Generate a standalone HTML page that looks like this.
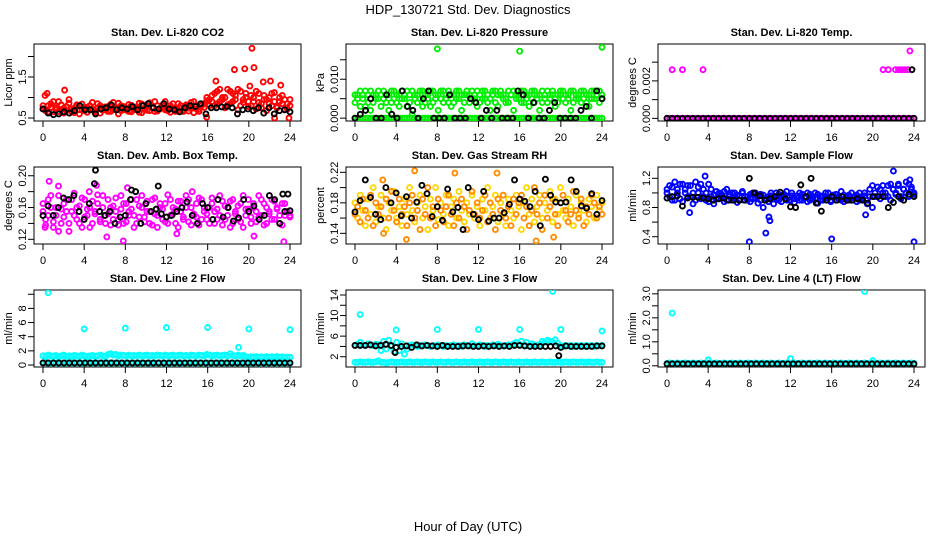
<!DOCTYPE html>
<html><head><meta charset="utf-8"><style>
html,body{margin:0;padding:0;background:#fff;}
svg{display:block;font-family:"Liberation Sans",sans-serif;}
</style></head><body>
<svg id="chart" width="936" height="540" viewBox="0 0 936 540">
<text x="468" y="14" text-anchor="middle" font-size="13">HDP_130721 Std. Dev. Diagnostics</text>
<text x="468" y="531" text-anchor="middle" font-size="13">Hour of Day (UTC)</text>
</svg>
<script>
// ---- data ----
const xTicks = [0,4,8,12,16,20,24];
const co2Red = [0.72,0.68,0.8,0.85,0.65,0.75,0.9,0.7,0.62,0.78,0.95,0.66,0.74,0.82,0.6,0.7,0.76,0.64,0.8,0.72,0.68,0.85,0.62,0.75,0.7,0.78,0.66,0.88,0.73,0.6,0.8,0.71,0.69,0.83,0.65,0.77,0.72,0.86,0.63,0.74,0.8,0.68,0.76,0.9,0.67,0.73,0.82,0.7,0.75,0.64,0.85,0.72,0.69,0.8,0.66,0.78,0.74,0.88,0.63,0.79,0.71,0.84,0.76,0.92,0.95,1.05,0.8,1.15,0.9,1.0,0.75,1.2,0.85,1.1,0.95,0.7,1.15,0.88,1.0,0.78,1.05,0.9,0.72,1.1,0.85,0.95,0.68,1.0,0.8,1.12,0.75,0.9,1.05,0.7,0.85,0.95];
const co2Red2 = [0.8,0.7,0.65,0.76,0.9,0.7,0.66,0.82,0.74,0.68,0.86,0.72,0.63,0.79,0.7,0.84,0.68,0.76,0.7,0.88,0.64,0.74,0.8,0.69,0.77,0.66,0.83,0.7,0.75,0.86,0.68,0.78,0.73,0.66,0.81,0.7,0.76,0.64,0.84,0.71,0.69,0.87,0.74,0.66,0.8,0.72,0.75,0.9,0.68,0.8,0.72,0.66,0.85,0.74,0.7,0.82,0.67,0.76,0.9,0.72,0.66,0.8,0.85,1.0,0.8,0.9,1.1,0.85,1.2,0.95,1.0,0.82,1.15,0.9,1.05,1.2,0.8,0.95,1.1,0.9,0.8,1.0,1.15,0.88,0.75,1.05,0.95,0.85,1.1,0.9,0.78,1.0,0.85,0.95,0.72,0.8];
const co2RedOutHours = [0.2,0.4,2.1,16.8,18.6,19.6,20.1,20.3,20.5,21.4,22.1,23.1,22.5,23.9,15.9];
const co2RedOutVals = [1.05,1.1,1.18,1.4,1.68,1.7,1.28,2.2,1.73,1.38,1.4,1.3,0.5,0.5,0.52];
const co2Black = [0.72,0.62,0.58,0.6,0.65,0.62,0.68,0.8,0.7,0.7,0.6,0.72,0.75,0.82,0.7,0.75,0.72,0.78,0.7,0.8,0.85,0.75,0.72,0.85,0.72,0.7,0.65,0.75,0.8,0.78,0.85,0.6,0.75,0.75,0.77,0.78,0.75,0.6,0.7,0.72,0.68,0.75,0.62,0.75,0.6,0.68,0.7,0.65];

const presGreenBase = [0,0,0,0,0,0,0,0,0,0,0,0,0,0,0,0,0,0,0,0,0,0,0,0,0,0,0,0,0,0,0,0,0,0,0,0,0,0,0,0,0,0,0,0,0,0,0,0,0,0,0,0,0,0,0,0,0,0,0,0,0,0,0,0,0,0,0,0,0,0,0,0,0,0,0,0,0,0,0,0,0,0,0,0,0,0,0,0,0,0,0,0,0,0,0,0];
const presGreen = [0.006,0.005,0.003,0.006,0.007,0.004,0.002,0.006,0.005,0.007,0.003,0.005,0.006,0.002,0.004,0.007,0.006,0.003,0.005,0.006,0.007,0.004,0.001,0.005,0.006,0.007,0.003,0.006,0.005,0.007,0.004,0.006,0.002,0.005,0.007,0.006,0.004,0.003,0.006,0.005,0.007,0.002,0.006,0.006,0.004,0.007,0.005,0.003,0.006,0.007,0.005,0.004,0.002,0.006,0.007,0.003,0.006,0.005,0.004,0.007,0.006,0.002,0.005,0.006,0.007,0.004,0.006,0.003,0.005,0.007,0.006,0.002,0.004,0.006,0.007,0.005,0.006,0.003,0.006,0.007,0.005,0.004,0.006,0.002,0.007,0.005,0.006,0.004,0.007,0.006,0.003,0.005,0.007,0.006,0.004,0.006];
const presGreen2 = [0.004,0.006,0.007,0.005,0.003,0.006,0.007,0.004,0.006,0.005,0.006,0.007,0.004,0.006,0.007,0.005,0.004,0.006,0.007,0.005,0.003,0.006,0.007,0.006,0.004,0.005,0.007,0.004,0.006,0.003,0.007,0.005,0.006,0.007,0.004,0.005,0.007,0.006,0.004,0.007,0.005,0.006,0.004,0.007,0.006,0.005,0.006,0.007,0.004,0.005,0.007,0.006,0.005,0.007,0.004,0.006,0.007,0.006,0.005,0.004,0.006,0.007,0.006,0.005,0.004,0.007,0.005,0.006,0.007,0.004,0.005,0.006,0.007,0.005,0.004,0.006,0.007,0.005,0.004,0.006,0.007,0.006,0.005,0.007,0.004,0.006,0.005,0.007,0.005,0.004,0.006,0.007,0.005,0.006,0.007,0.005];
const presGreenOutHours = [8,16,24];
const presGreenOutVals = [0.0178,0.0172,0.0182];
const presBlack = [0,0.001,0.002,0.005,0,0,0.006,0.001,0,0.007,0.003,0.002,0,0.005,0.007,0,0,0,0.006,0,0,0,0.005,0.004,0,0.002,0,0.002,0,0,0,0.007,0.006,0,0.004,0,0,0.002,0.004,0,0,0,0,0.002,0.003,0,0.007,0.005];

const tempMag = [0,0,0,0,0,0,0,0,0,0,0,0,0,0,0,0,0,0,0,0,0,0,0,0,0,0,0,0,0,0,0,0,0,0,0,0,0,0,0,0,0,0,0,0,0,0,0,0,0,0,0,0,0,0,0,0,0,0,0,0,0,0,0,0,0,0,0,0,0,0,0,0,0,0,0,0,0,0,0,0,0,0,0,0,0,0,0,0,0,0,0,0,0,0,0,0];
const tempMagOutHours = [0.5,1.5,3.5,21,21.5,22.2,22.5,22.8,23.1,23.4,23.6];
const tempMagOutVals = [0.0026,0.0026,0.0026,0.0026,0.0026,0.0026,0.0026,0.0026,0.0026,0.0026,0.0036];
const tempBlack = [0,0,0,0,0,0,0,0,0,0,0,0,0,0,0,0,0,0,0,0,0,0,0,0,0,0,0,0,0,0,0,0,0,0,0,0,0,0,0,0,0,0,0,0,0,0,0,0,0];
const tempBlackOutHours = [23.8];
const tempBlackOutVals = [0.0026];

const ambMag = [0.155,0.145,0.17,0.16,0.135,0.15,0.175,0.14,0.165,0.155,0.13,0.17,0.15,0.16,0.14,0.172,0.148,0.158,0.135,0.168,0.152,0.176,0.142,0.16,0.15,0.17,0.138,0.162,0.155,0.145,0.175,0.14,0.165,0.15,0.158,0.135,0.17,0.148,0.16,0.142,0.168,0.155,0.138,0.172,0.15,0.16,0.145,0.165,0.14,0.17,0.152,0.158,0.135,0.168,0.148,0.175,0.142,0.16,0.15,0.165,0.138,0.17,0.155,0.145,0.16,0.172,0.14,0.158,0.15,0.168,0.145,0.16,0.135,0.17,0.152,0.162,0.142,0.175,0.15,0.158,0.14,0.165,0.155,0.148,0.17,0.138,0.16,0.152,0.145,0.168,0.158,0.14,0.165,0.15,0.155,0.148];
const ambMag2 = [0.165,0.138,0.15,0.175,0.142,0.16,0.13,0.158,0.148,0.17,0.14,0.155,0.178,0.145,0.162,0.135,0.17,0.15,0.16,0.14,0.155,0.165,0.145,0.175,0.14,0.152,0.16,0.145,0.172,0.138,0.158,0.165,0.142,0.155,0.17,0.15,0.14,0.162,0.175,0.148,0.155,0.14,0.17,0.152,0.135,0.165,0.158,0.142,0.176,0.15,0.16,0.14,0.168,0.155,0.145,0.16,0.17,0.138,0.152,0.148,0.172,0.145,0.16,0.152,0.14,0.165,0.155,0.145,0.175,0.138,0.162,0.15,0.168,0.14,0.155,0.145,0.165,0.135,0.158,0.17,0.148,0.16,0.142,0.175,0.15,0.165,0.14,0.155,0.17,0.145,0.16,0.15,0.138,0.165,0.155,0.15];
const ambMagOutHours = [0.6,1.5,0.2,5.2,7.8,23.4,6.2,20.5,13,8.2,4.5,14.5];
const ambMagOutVals = [0.193,0.187,0.135,0.188,0.118,0.117,0.123,0.124,0.127,0.185,0.18,0.18];
const ambBlack = [0.15,0.162,0.15,0.16,0.172,0.17,0.175,0.155,0.145,0.165,0.19,0.155,0.15,0.155,0.14,0.148,0.15,0.17,0.18,0.14,0.165,0.155,0.158,0.152,0.148,0.15,0.155,0.16,0.167,0.15,0.14,0.165,0.16,0.145,0.17,0.148,0.16,0.143,0.147,0.17,0.155,0.162,0.145,0.15,0.175,0.17,0.14,0.155,0.156];
const ambBlackOutHours = [5.1,11.2,8.6,23.3,23.8];
const ambBlackOutVals = [0.207,0.187,0.182,0.177,0.177];

const rhYellow = [0.18,0.16,0.19,0.17,0.15,0.185,0.165,0.2,0.155,0.175,0.19,0.16,0.145,0.18,0.17,0.195,0.16,0.175,0.15,0.185,0.165,0.2,0.17,0.155,0.18,0.19,0.16,0.175,0.145,0.185,0.17,0.2,0.158,0.18,0.165,0.19,0.15,0.175,0.185,0.16,0.195,0.17,0.155,0.18,0.165,0.19,0.16,0.175,0.15,0.185,0.17,0.2,0.16,0.175,0.19,0.155,0.18,0.165,0.15,0.185,0.17,0.16,0.19,0.175,0.145,0.18,0.2,0.165,0.185,0.155,0.175,0.19,0.16,0.18,0.17,0.195,0.155,0.185,0.165,0.2,0.17,0.16,0.185,0.175,0.15,0.19,0.165,0.18,0.17,0.155,0.185,0.175,0.16,0.19,0.17,0.18];
const rhOrange = [0.165,0.175,0.155,0.185,0.17,0.16,0.19,0.15,0.18,0.165,0.175,0.14,0.185,0.16,0.195,0.17,0.155,0.185,0.165,0.175,0.15,0.18,0.19,0.16,0.17,0.145,0.185,0.165,0.2,0.16,0.175,0.15,0.185,0.17,0.155,0.175,0.19,0.165,0.15,0.18,0.16,0.185,0.175,0.145,0.17,0.195,0.165,0.18,0.16,0.17,0.19,0.155,0.18,0.165,0.145,0.185,0.17,0.19,0.16,0.175,0.15,0.185,0.165,0.18,0.19,0.16,0.175,0.15,0.17,0.2,0.165,0.18,0.145,0.19,0.16,0.175,0.185,0.165,0.15,0.18,0.19,0.17,0.155,0.165,0.195,0.17,0.16,0.185,0.15,0.175,0.165,0.19,0.18,0.16,0.175,0.165];
const rhOrangeOutHours = [5,5.8,13.8,17.6,19.3,9.7,2.7];
const rhOrangeOutVals = [0.132,0.222,0.219,0.13,0.135,0.219,0.21];
const rhBlack = [0.168,0.183,0.21,0.187,0.165,0.158,0.2,0.18,0.193,0.163,0.188,0.16,0.181,0.203,0.192,0.162,0.175,0.157,0.198,0.168,0.174,0.145,0.2,0.165,0.158,0.195,0.156,0.16,0.16,0.167,0.178,0.21,0.185,0.182,0.175,0.195,0.15,0.211,0.19,0.181,0.18,0.181,0.21,0.195,0.176,0.173,0.192,0.165,0.183];

const flowBlue = [1.0,0.95,1.08,0.9,1.05,1.12,0.88,1.0,1.1,0.95,0.85,1.15,1.0,0.92,1.05,0.9,1.12,0.95,0.85,1.02,0.92,0.98,0.88,1.05,0.95,0.9,1.0,0.87,0.96,1.02,0.9,0.95,0.88,1.0,0.93,0.86,0.98,0.8,0.9,0.95,1.0,0.85,0.92,0.98,0.88,0.95,1.02,0.9,0.96,0.87,0.93,1.0,0.9,0.95,0.88,0.98,0.92,1.0,0.86,0.95,0.9,1.0,0.93,0.88,0.97,0.9,0.95,1.02,0.88,0.93,0.97,0.9,0.95,0.88,1.0,0.92,0.96,0.85,1.05,0.8,0.95,1.08,0.92,1.0,0.95,1.1,0.9,1.05,0.98,1.12,0.92,1.05,1.15,0.95,1.08,1.0];
const flowBlue2 = [1.05,1.1,0.9,1.15,1.0,0.92,1.12,1.05,0.95,1.1,1.0,0.9,1.08,1.12,0.95,1.0,0.88,1.05,0.97,0.92,1.0,0.95,1.02,0.9,0.98,1.0,0.93,0.97,0.9,1.0,0.95,0.9,0.98,0.92,1.0,0.95,0.9,0.97,0.93,0.88,0.96,0.92,1.0,0.9,0.95,0.98,0.9,0.94,1.0,0.92,0.96,0.9,0.98,0.93,1.0,0.9,0.95,0.92,0.98,0.9,0.96,0.93,1.0,0.9,0.94,0.98,0.92,0.9,0.97,0.95,0.9,1.0,0.93,0.97,0.9,0.95,1.0,0.9,0.95,1.1,1.0,0.95,1.05,1.1,1.0,0.95,1.12,1.05,1.0,1.1,0.95,1.05,1.0,1.12,1.05,0.98];
const flowBlueOutHours = [8,16,24,9.6,9.9,10.0,2.2,22,3.7,19.3,23.6];
const flowBlueOutVals = [0.33,0.37,0.33,0.45,0.67,0.62,0.73,1.3,1.23,0.7,1.18];
const flowBlack = [0.93,0.95,0.96,0.82,0.93,0.94,0.94,0.93,0.92,0.9,0.92,0.93,0.9,0.9,0.9,0.9,1.2,1.0,0.96,0.9,0.92,0.95,1.01,0.92,0.81,0.8,1.11,0.95,1.2,0.86,0.75,0.9,0.95,0.9,0.95,0.9,0.9,0.92,0.9,0.86,0.95,0.95,0.95,0.8,0.87,0.95,0.9,0.98,0.95];

const l2CyanHigh = [1.3,1.2,1.4,1.3,1.25,1.35,1.2,1.3,1.4,1.25,1.3,1.2,1.35,1.3,1.25,1.4,1.3,1.2,1.3,1.35,1.25,1.3,1.4,1.3,1.2,1.5,1.6,1.4,1.5,1.3,1.4,1.35,1.3,1.4,1.3,1.35,1.3,1.4,1.3,1.35,1.4,1.3,1.35,1.3,1.4,1.35,1.3,1.4,1.3,1.35,1.4,1.3,1.35,1.4,1.3,1.35,1.3,1.4,1.35,1.3,1.4,1.35,1.3,1.5,1.4,1.3,1.35,1.4,1.3,1.35,1.4,1.3,1.6,1.35,1.3,1.4,1.3,1.35,1.2,1.1,1.15,1.1,1.2,1.1,1.15,1.1,1.2,1.1,1.15,1.1,1.2,1.1,1.15,1.1,1.1,1.1];
const l2CyanLow = [0.3,0.3,0.3,0.3,0.3,0.3,0.3,0.3,0.3,0.3,0.3,0.3,0.3,0.3,0.3,0.3,0.3,0.3,0.3,0.3,0.3,0.3,0.3,0.3,0.3,0.3,0.3,0.3,0.3,0.3,0.3,0.3,0.3,0.3,0.3,0.3,0.3,0.3,0.3,0.3,0.3,0.3,0.3,0.3,0.3,0.3,0.3,0.3,0.3,0.3,0.3,0.3,0.3,0.3,0.3,0.3,0.3,0.3,0.3,0.3,0.3,0.3,0.3,0.3,0.3,0.3,0.3,0.3,0.3,0.3,0.3,0.3,0.3,0.3,0.3,0.3,0.3,0.3,0.3,0.3,0.3,0.3,0.3,0.3,0.3,0.3,0.3,0.3,0.3,0.3,0.3,0.3,0.3,0.3,0.3,0.3];
const l2CyanOutHours = [0.5,4,8,12,16,19,20,24];
const l2CyanOutVals = [10.2,5.1,5.2,5.3,5.3,2.5,5.1,5.0];
const l2Black = [0.3,0.3,0.3,0.3,0.3,0.3,0.3,0.3,0.3,0.3,0.3,0.3,0.3,0.3,0.3,0.3,0.3,0.3,0.3,0.3,0.3,0.3,0.3,0.3,0.3,0.3,0.3,0.3,0.3,0.3,0.3,0.3,0.3,0.3,0.3,0.3,0.3,0.3,0.3,0.3,0.3,0.3,0.3,0.3,0.3,0.3,0.3,0.3];

const l3CyanHigh = [4.2,4.4,4.8,4.3,4.2,4.5,4.3,4.2,4.4,4.3,3.2,5.0,3.5,5.2,4.0,3.0,4.8,3.2,4.5,2.5,3.5,4.2,4.3,4.2,4.0,4.2,4.1,4.3,4.2,4.0,4.2,4.1,4.3,4.2,4.0,4.2,4.1,4.2,4.3,4.1,4.2,4.0,4.3,4.2,4.1,4.5,4.2,4.1,4.3,4.2,4.0,4.2,4.1,4.3,4.2,4.4,4.2,4.1,4.2,4.3,4.2,4.5,4.8,4.4,5.0,4.3,4.8,4.2,4.5,4.3,4.2,4.4,5.0,4.8,5.2,5.0,4.8,5.3,4.6,4.2,4.0,4.2,4.1,4.2,4.0,4.2,4.1,4.2,4.0,4.2,4.1,4.2,4.0,4.2,4.1,4.2];
const l3CyanLow = [0.9,0.9,1.0,0.9,0.9,1.0,0.9,0.9,1.0,1.2,0.9,0.9,0.8,0.9,1.0,0.9,0.9,0.9,1.0,0.9,0.9,1.0,0.9,0.9,1.0,0.9,0.9,1.0,0.9,0.9,1.0,0.9,0.9,1.0,0.9,0.9,1.0,0.9,0.9,1.0,0.9,0.9,1.0,0.9,0.9,1.0,0.9,0.9,1.0,0.9,0.9,1.0,0.9,0.9,1.0,0.9,0.9,1.0,0.9,0.9,1.0,0.9,0.9,1.0,0.9,0.9,1.0,0.9,0.9,1.0,0.9,0.9,1.0,0.9,0.9,1.0,0.9,0.9,1.0,0.9,0.9,1.0,0.9,0.9,1.0,0.9,0.9,1.0,0.9,0.9,1.0,0.9,0.9,1.0,0.9,0.9];
const l3CyanOutHours = [0.5,4,8,12,16,19.2,20,24];
const l3CyanOutVals = [10.2,7.2,7.3,7.3,7.3,14.7,7.3,7.0];
const l3Black = [4.2,4.2,4.2,4.3,4.1,4.2,4.4,4.2,3.8,4.0,4.1,3.8,4.3,4.1,4.2,4.1,4.0,4.2,4.0,4.0,4.0,4.1,4.1,4.0,4.0,4.1,4.0,4.1,4.0,4.1,4.0,4.2,4.2,4.1,4.0,4.0,4.0,4.0,4.0,4.1,3.8,4.1,4.0,4.0,4.0,4.0,4.0,4.1,4.1];
const l3BlackOutHours = [3.9,19.8];
const l3BlackOutVals = [2.8,2.2];

const l4Cyan = [0.1,0.12,0.1,0.1,0.12,0.1,0.1,0.12,0.1,0.1,0.12,0.1,0.1,0.12,0.1,0.1,0.12,0.1,0.1,0.12,0.1,0.1,0.12,0.1,0.1,0.12,0.1,0.1,0.12,0.1,0.1,0.12,0.1,0.1,0.12,0.1,0.1,0.12,0.1,0.1,0.12,0.1,0.1,0.12,0.1,0.1,0.12,0.1,0.1,0.12,0.1,0.1,0.12,0.1,0.1,0.12,0.1,0.1,0.12,0.1,0.1,0.12,0.1,0.1,0.12,0.1,0.1,0.12,0.1,0.1,0.12,0.1,0.1,0.12,0.1,0.1,0.12,0.1,0.1,0.12,0.1,0.1,0.12,0.1,0.1,0.12,0.1,0.1,0.12,0.1,0.1,0.12,0.1,0.1,0.12,0.1];
const l4CyanOutHours = [0.5,19.2,12,4,20];
const l4CyanOutVals = [2.2,3.1,0.3,0.25,0.22];
const l4Black = [0.08,0.08,0.08,0.08,0.08,0.08,0.08,0.08,0.08,0.08,0.08,0.08,0.08,0.08,0.08,0.08,0.08,0.08,0.08,0.08,0.08,0.08,0.08,0.08,0.08,0.08,0.08,0.08,0.08,0.08,0.08,0.08,0.08,0.08,0.08,0.08,0.08,0.08,0.08,0.08,0.08,0.08,0.08,0.08,0.08,0.08,0.08,0.08];

// y-axis ticks and labels
const co2Ticks=[0.5,1.0,1.5,2.0], co2Labels=['0.5','','1.5',''];
const presTicks=[0,0.005,0.010,0.015], presLabels=['0.000','','0.010',''];
const tempTicks=[0,0.001,0.002,0.003], tempLabels=['0.000','','0.002',''];
const ambTicks=[0.12,0.14,0.16,0.18,0.20], ambLabels=['0.12','','0.16','','0.20'];
const rhTicks=[0.14,0.16,0.18,0.20,0.22], rhLabels=['0.14','','0.18','','0.22'];
const flowTicks=[0.4,0.6,0.8,1.0,1.2], flowLabels=['0.4','','0.8','','1.2'];
const l2Ticks=[0,2,4,6,8,10], l2Labels=['0','2','4','6','8',''];
const l3Ticks=[2,4,6,8,10,12,14], l3Labels=['2','','6','','10','','14'];
const l4Ticks=[0,0.5,1,1.5,2,2.5,3], l4Labels=['0.0','','1.0','','2.0','','3.0'];

// ---- rendering ----
const NS='http://www.w3.org/2000/svg';
const svg=document.getElementById('chart');
function mk(tag,attrs,parent){const e=document.createElementNS(NS,tag);for(const k in attrs)e.setAttribute(k,attrs[k]);(parent||svg).appendChild(e);return e;}

function panel(p){
  const left=[34,346,658][p.col], top=[44,167,290][p.row], W=267, H=77;
  const g=mk('g',{});
  
  
  const xs=h=>left+9+h*(247/24);
  const ys=v=>top+H-(v-p.ymin)/(p.ymax-p.ymin)*H;
  const box=mk('rect',{x:left,y:top,width:W,height:H,fill:'none',stroke:'#000','stroke-width':1},g);
  
  
  const t=mk('text',{x:left+W/2,y:top-8,'text-anchor':'middle','font-size':11,'font-weight':'bold'},g);
  t.textContent=p.title;
  
  
  const ax=mk('g',{},g);
  
  
  const ay0=top+H;
  xTicks.forEach(h=>{
    mk('line',{x1:xs(h),x2:xs(h),y1:ay0,y2:ay0+6,stroke:'#000'},ax);
    const tl=mk('text',{x:xs(h),y:ay0+20,'text-anchor':'middle','font-size':11},ax);
    tl.textContent=h;
    
    
  });
  const yax=mk('g',{},g);
  
  
  const ax0=left;
  p.ticks.forEach((v,i)=>{
    const y=ys(v);
    mk('line',{x1:ax0-6,x2:ax0,y1:y,y2:y,stroke:'#000'},yax);
    if(p.labels[i]){
      const tl=mk('text',{x:0,y:0,'text-anchor':'middle','font-size':11,transform:`translate(${ax0-8},${y}) rotate(-90)`},yax);
      tl.textContent=p.labels[i];
      
      
    }
  });
  const yt=mk('text',{x:0,y:0,'text-anchor':'middle','font-size':11,transform:`translate(${left-22},${top+H/2}) rotate(-90)`},g);
  yt.textContent=p.ylab;
  
  
  const cid='clip'+p.name;
  const cp=mk('clipPath',{id:cid},g);
  mk('rect',{x:left,y:top,width:W,height:H},cp);
  const pts=mk('g',{'clip-path':`url(#${cid})`},g);
  p.series.forEach(s=>{
    const sg=mk('g',{fill:'none',stroke:s.color,'stroke-width':1.9},pts);
    
    
    s.vals.forEach((v,i)=>{
      const h=s.hours?s.hours[i]:i*24/(s.vals.length-1);
      const c=mk('circle',{cx:xs(h),cy:ys(v),r:2.5},sg);
      
      
    });
  });
}

panel({name:'co2',col:0,row:0,ymin:0.427,ymax:2.305,ticks:co2Ticks,labels:co2Labels,ylab:'Licor ppm',title:'Stan. Dev. Li-820 CO2',
 series:[{name:'co2-red',vals:co2Red,color:'#ff0000'},{name:'co2-red-b',vals:co2Red2,color:'#ff0000'},{name:'co2-red-outliers',vals:co2RedOutVals,hours:co2RedOutHours,color:'#ff0000'},{name:'co2-black',vals:co2Black,color:'#000'}]});
panel({name:'pressure',col:1,row:0,ymin:-0.00073,ymax:0.01905,ticks:presTicks,labels:presLabels,ylab:'kPa',title:'Stan. Dev. Li-820 Pressure',
 series:[{name:'pressure-green-base',vals:presGreenBase,color:'#00ee00'},{name:'pressure-green',vals:presGreen,color:'#00ee00'},{name:'pressure-green-b',vals:presGreen2,color:'#00ee00'},{name:'pressure-green-outliers',vals:presGreenOutVals,hours:presGreenOutHours,color:'#00ee00'},{name:'pressure-black',vals:presBlack,color:'#000'}]});
panel({name:'temp',col:2,row:0,ymin:-0.00014,ymax:0.00397,ticks:tempTicks,labels:tempLabels,ylab:'degrees C',title:'Stan. Dev. Li-820 Temp.',
 series:[{name:'temp-magenta',vals:tempMag,color:'#ff00ff'},{name:'temp-magenta-outliers',vals:tempMagOutVals,hours:tempMagOutHours,color:'#ff00ff'},{name:'temp-black',vals:tempBlack,color:'#000'},{name:'temp-black-outliers',vals:tempBlackOutVals,hours:tempBlackOutHours,color:'#000'}]});
panel({name:'ambient',col:0,row:1,ymin:0.1141,ymax:0.211,ticks:ambTicks,labels:ambLabels,ylab:'degrees C',title:'Stan. Dev. Amb. Box Temp.',
 series:[{name:'ambient-magenta',vals:ambMag,color:'#ff00ff'},{name:'ambient-magenta-b',vals:ambMag2,color:'#ff00ff'},{name:'ambient-magenta-outliers',vals:ambMagOutVals,hours:ambMagOutHours,color:'#ff00ff'},{name:'ambient-black',vals:ambBlack,color:'#000'},{name:'ambient-black-outliers',vals:ambBlackOutVals,hours:ambBlackOutHours,color:'#000'}]});
panel({name:'rh',col:1,row:1,ymin:0.126,ymax:0.227,ticks:rhTicks,labels:rhLabels,ylab:'percent',title:'Stan. Dev. Gas Stream RH',
 series:[{name:'rh-yellow',vals:rhYellow,color:'#ffd700'},{name:'rh-orange',vals:rhOrange,color:'#ff8c00'},{name:'rh-orange-outliers',vals:rhOrangeOutVals,hours:rhOrangeOutHours,color:'#ff8c00'},{name:'rh-black',vals:rhBlack,color:'#000'}]});
panel({name:'sample-flow',col:2,row:1,ymin:0.3,ymax:1.355,ticks:flowTicks,labels:flowLabels,ylab:'ml/min',title:'Stan. Dev. Sample Flow',
 series:[{name:'flow-blue',vals:flowBlue,color:'#0000ff'},{name:'flow-blue-b',vals:flowBlue2,color:'#0000ff'},{name:'flow-blue-outliers',vals:flowBlueOutVals,hours:flowBlueOutHours,color:'#0000ff'},{name:'flow-black',vals:flowBlack,color:'#000'}]});
panel({name:'line2',col:0,row:2,ymin:-0.28,ymax:10.6,ticks:l2Ticks,labels:l2Labels,ylab:'ml/min',title:'Stan. Dev. Line 2 Flow',
 series:[{name:'line2-cyan-high',vals:l2CyanHigh,color:'#00ffff'},{name:'line2-cyan-low',vals:l2CyanLow,color:'#00ffff'},{name:'line2-cyan-outliers',vals:l2CyanOutVals,hours:l2CyanOutHours,color:'#00ffff'},{name:'line2-black',vals:l2Black,color:'#000'}]});
panel({name:'line3',col:1,row:2,ymin:0.0,ymax:14.97,ticks:l3Ticks,labels:l3Labels,ylab:'ml/min',title:'Stan. Dev. Line 3 Flow',
 series:[{name:'line3-cyan-high',vals:l3CyanHigh,color:'#00ffff'},{name:'line3-cyan-low',vals:l3CyanLow,color:'#00ffff'},{name:'line3-cyan-outliers',vals:l3CyanOutVals,hours:l3CyanOutHours,color:'#00ffff'},{name:'line3-black',vals:l3Black,color:'#000'},{name:'line3-black-outliers',vals:l3BlackOutVals,hours:l3BlackOutHours,color:'#000'}]});
panel({name:'line4',col:2,row:2,ymin:-0.05,ymax:3.16,ticks:l4Ticks,labels:l4Labels,ylab:'ml/min',title:'Stan. Dev. Line 4 (LT) Flow',
 series:[{name:'line4-cyan',vals:l4Cyan,color:'#00ffff'},{name:'line4-cyan-outliers',vals:l4CyanOutVals,hours:l4CyanOutHours,color:'#00ffff'},{name:'line4-black',vals:l4Black,color:'#000'}]});
</script>
</body></html>
